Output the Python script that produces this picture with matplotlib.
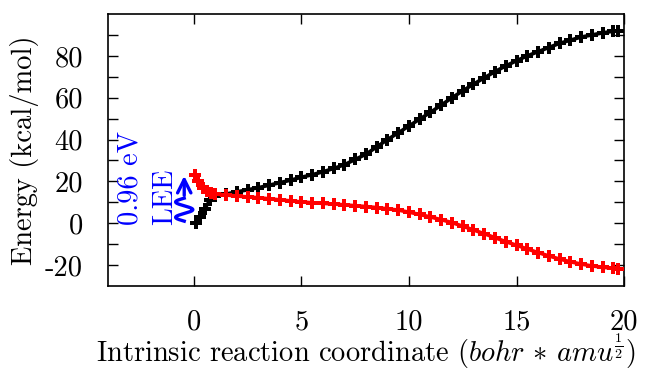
import numpy as np
import matplotlib
matplotlib.use("Agg")
import matplotlib.pyplot as plt

plt.rcParams['font.family'] = 'serif'
plt.rcParams['font.serif'] = ['cmr10']
plt.rcParams['mathtext.fontset'] = 'cm'
plt.rcParams['axes.unicode_minus'] = False

# ----------------------------------------------------------------
# ground state (black) and anion state (red) along the IRC
x_black = [0.1, 0.3, 0.5, 0.75, 1.0, 1.5, 2.0, 2.5, 3.0, 3.5, 4.0, 4.5, 5.0,
           5.5, 6.0, 6.5, 7.0, 7.5, 8.0, 8.5, 9.0, 9.5, 10.0, 10.5, 11.0,
           11.5, 12.0, 12.5, 13.0, 13.5, 14.0, 14.5, 15.0, 15.5, 16.0, 16.5,
           17.0, 17.5, 18.0, 18.5, 19.0, 19.5, 19.7]
e_black = [0.0, 3.0, 7.0, 11.0, 13.0, 14.0, 15.0, 16.0, 17.0, 18.2, 19.4,
           20.6, 22.0, 23.2, 24.6, 26.2, 28.0, 30.5, 33.0, 36.5, 40.0, 43.2,
           46.5, 49.8, 53.0, 56.5, 60.0, 63.3, 66.5, 69.5, 72.5, 75.2, 77.7,
           80.0, 82.0, 84.0, 86.0, 87.5, 89.0, 90.0, 91.0, 91.8, 92.0]

x_red = [0.05, 0.2, 0.4, 0.6, 0.8, 1.0, 1.5, 2.0, 2.5, 3.0, 3.5, 4.0, 4.5,
         5.0, 5.5, 6.0, 6.5, 7.0, 7.5, 8.0, 8.5, 9.0, 9.5, 10.0, 10.5, 11.0,
         11.5, 12.0, 12.5, 13.0, 13.5, 14.0, 14.5, 15.0, 15.5, 16.0, 16.5,
         17.0, 17.5, 18.0, 18.5, 19.0, 19.5, 19.7]
e_red = [23.0, 20.0, 16.8, 15.2, 14.5, 14.0, 13.5, 13.0, 12.6, 12.2, 11.7,
         11.2, 10.7, 10.2, 9.8, 9.5, 9.2, 8.8, 8.4, 8.0, 7.5, 6.9, 6.3, 5.3,
         4.2, 3.0, 1.7, 0.3, -1.4, -3.2, -5.0, -6.9, -8.8, -10.5, -12.3,
         -14.0, -15.6, -17.1, -18.4, -19.5, -20.4, -21.0, -21.6, -21.8]

xticks = [0, 5, 10, 15, 20]
yticks = [-20, 0, 20, 40, 60, 80]
ytick_labels = ['-20', '0', '20', '40', '60', '80']

# LEE arrow
lee_x = -0.45
lee_y0, lee_y1 = 0.0, 24.0

fs = 20.5

# ----------------------------------------------------------------
fig = plt.figure(figsize=(6.46, 3.70), dpi=100)
ax = fig.add_axes([0.167, 0.227, 0.799, 0.735])

ax.plot(x_black, e_black, color='black', lw=2.6, marker='P', ms=8,
        mew=0, zorder=3)
ax.plot(x_red, e_red, color='red', lw=2.6, marker='P', ms=8,
        mew=0, zorder=3)

# wavy arrow (photon) for the LEE
t = np.linspace(0, 1, 200)
wy = lee_y0 + 1.0 + t * 11.0
wx = lee_x + 0.4 * np.sin(2 * np.pi * 1.5 * t + np.pi)
ax.plot(wx, wy, color='blue', lw=2.4)
ax.annotate('', xy=(lee_x, lee_y1), xytext=(lee_x, 12.0),
            arrowprops=dict(arrowstyle='->', color='blue', lw=2.4,
                            mutation_scale=24))
ax.text(-2.95, -1.0, '0.96 eV', color='blue', rotation=90, fontsize=fs,
        ha='center', va='bottom')
ax.text(-1.35, -1.0, 'LEE', color='blue', rotation=90, fontsize=fs,
        ha='center', va='bottom')

ax.set_xlim(-4, 20)
ax.set_ylim(-30, 100)
ax.set_xticks(xticks)
ax.set_xticklabels([str(v) for v in xticks])
ax.set_yticks(yticks)
ax.set_yticklabels(ytick_labels)
ax.set_yticks(np.arange(-20, 100, 10), minor=True)

ax.tick_params(which='both', direction='in', top=True, right=True,
               length=7, width=1, labelsize=fs)
ax.tick_params(axis='x', pad=17)
ax.tick_params(axis='y', pad=18)
for s in ax.spines.values():
    s.set_linewidth(1.2)

ax.set_ylabel('Energy (kcal/mol)', fontsize=fs, labelpad=4)
ax.set_xlabel(r'Intrinsic reaction coordinate ($bohr\,*\,amu^{\frac{1}{2}}$)',
              fontsize=fs, labelpad=-3)

fig.savefig('out.png', dpi=100)
